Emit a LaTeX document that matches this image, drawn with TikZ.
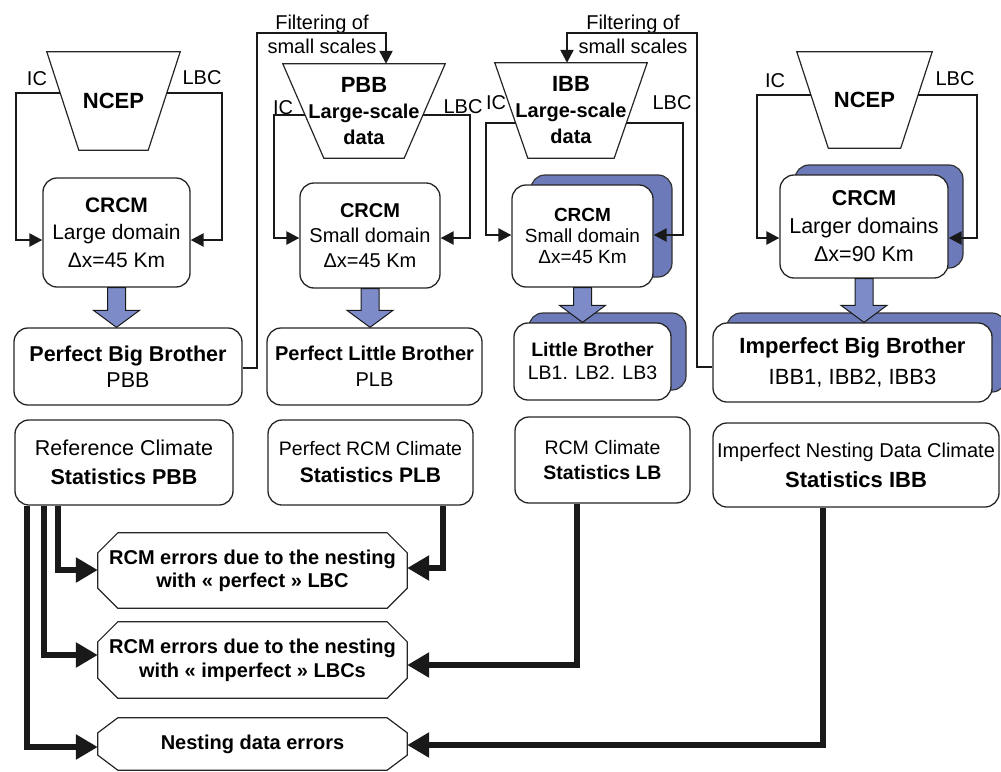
\documentclass[tikz,border=0pt]{standalone}
\usepackage{fontspec}
\setmainfont{Liberation Sans}
\usetikzlibrary{shadows,arrows.meta,calc}
\definecolor{arrowblue}{RGB}{125,140,200}
\definecolor{shadowblue}{RGB}{108,122,186}
\newcommand{\fs}[2]{\fontsize{#1}{#2}\selectfont}
\newcommand{\trapdraw}[2]{\draw[trapline] (#1.north west) -- (#1.north east) -- ([xshift=-#2pt]#1.south east) -- ([xshift=#2pt]#1.south west) -- cycle;}
\newcommand{\chamdraw}[3]{\draw[trapline] ([xshift=#2pt]#1.north west) -- ([xshift=-#2pt]#1.north east) -- ([yshift=-#3pt]#1.north east) -- ([yshift=#3pt]#1.south east) -- ([xshift=-#2pt]#1.south east) -- ([xshift=#2pt]#1.south west) -- ([yshift=#3pt]#1.south west) -- ([yshift=-#3pt]#1.north west) -- cycle;}
\newcommand{\blockarrow}[2]{%
 \path[fill=arrowblue, draw=black!90, line width=1pt] let \p1=(#1.south), \p2=(#2.north) in
   (\x1-9pt,\y1) -- (\x1+9pt,\y1) -- (\x1+9pt,\y2+17pt) -- (\x1+23pt,\y2+17pt) -- (\x1,\y2) -- (\x1-23pt,\y2+17pt) -- (\x1-9pt,\y2+17pt) -- cycle;}
\begin{document}
\begin{tikzpicture}[x=1pt,y=-1pt,
  box/.style={draw=black!85, line width=1.3pt, rounded corners=14pt, inner sep=0pt, align=center, fill=white},
  tbox/.style={inner sep=0pt, align=center},
  trapline/.style={draw=black!85, line width=1.2pt},
  lbl/.style={inner sep=0pt, font=\fs{20}{24}},
  thinarr/.style={line width=2.4pt, black!90, -{Triangle[length=13pt,width=13pt]}},
  thickarr/.style={line width=5.5pt, black!90, -{Triangle[length=22pt,width=24pt]}},
  shad/.style={copy shadow={shadow xshift=#1, shadow yshift=10pt, fill=shadowblue, draw=black!80, line width=1.2pt}}
]
\useasboundingbox (0,0) rectangle (1001,771);

% ---------- column 1 ----------
\node[tbox, minimum width=133pt, minimum height=98pt, font=\fs{22}{27}\bfseries] (ncep1) at (113.5,101) {NCEP};
\trapdraw{ncep1}{32}
\coordinate (ncep1l) at (60.4,93);
\coordinate (ncep1r) at (166.6,93);
\node[lbl] (ic1) at (37,79) {IC};
\node[lbl] (lbc1) at (202,78) {LBC};
\node[box, minimum width=147pt, minimum height=109pt, font=\fs{21}{27.5}] (crcm1) at (116.5,232.5) {\textbf{CRCM}\\Large domain\\Δx=45 Km};
\draw[thinarr] (ncep1l) -| (16,240) -- (crcm1.west |- 0,240);
\draw[thinarr] (ncep1r) -| (222,240) -- (crcm1.east |- 0,240);

% ---------- column 2 ----------
\node[tbox, minimum width=162pt, minimum height=94pt, font=\fs{20}{26}\bfseries] (pbb) at (364,111) {{\fs{22}{26}PBB}\\Large-scale\\data};
\trapdraw{pbb}{41}
\coordinate (pbbl) at (305.2,115);
\coordinate (pbbr) at (422.8,115);
\node[lbl] (ic2) at (283,108) {IC};
\node[lbl] (lbc2) at (463,107) {LBC};
\node[box, minimum width=140pt, minimum height=105pt, font=\fs{20}{25}] (crcm2) at (370,235.5) {\textbf{CRCM}\\Small domain\\Δx=45 Km};
\draw[thinarr] (pbbl) -| (274,238) -- (crcm2.west |- 0,238);
\draw[thinarr] (pbbr) -| (470,238) -- (crcm2.east |- 0,238);

% ---------- column 3 ----------
\node[tbox, minimum width=152pt, minimum height=95pt, font=\fs{20}{26}\bfseries] (ibb) at (571,110.5) {{\fs{22}{26}IBB}\\Large-scale\\data};
\trapdraw{ibb}{33}
\coordinate (ibbl) at (515.8,123);
\coordinate (ibbr) at (626.2,123);
\node[lbl] (ic3) at (496,103) {IC};
\node[lbl] (lbc3) at (672,103) {LBC};
\node[box, shad=19pt, minimum width=141pt, minimum height=102pt, font=\fs{19}{21}] (crcm3) at (582.5,236) {\textbf{CRCM}\\Small domain\\Δx=45 Km};
\draw[thinarr] (ibbl) -| (486,235) -- (crcm3.west |- 0,235);
\draw[thinarr] (ibbr) -| (683,235) -- (crcm3.east |- 0,235);

% ---------- column 4 ----------
\node[tbox, minimum width=135pt, minimum height=96pt, font=\fs{22}{27}\bfseries] (ncep4) at (864.5,100) {NCEP};
\trapdraw{ncep4}{31.5}
\coordinate (ncep4l) at (811.1,95);
\coordinate (ncep4r) at (917.9,95);
\node[lbl] (ic4) at (775,81) {IC};
\node[lbl] (lbc4) at (955,79) {LBC};
\node[box, shad=15pt, minimum width=168pt, minimum height=103pt, font=\fs{21.5}{28}] (crcm4) at (864,226.5) {\textbf{CRCM}\\Larger domains\\Δx=90 Km};
\draw[thinarr] (ncep4l) -| (757,238) -- (crcm4.west |- 0,238);
\draw[thinarr] (ncep4r) -| (977,238) -- (crcm4.east |- 0,238);

% ---------- brother boxes ----------
\node[box, minimum width=228pt, minimum height=77pt, font=\fs{21.5}{26}] (pbbb) at (128,366.5) {\textbf{Perfect Big Brother}\\PBB};
\node[box, minimum width=215pt, minimum height=77pt, font=\fs{20}{26}] (plb) at (374.5,366.5) {\textbf{Perfect Little Brother}\\PLB};
\node[box, shad=15pt, minimum width=157pt, minimum height=77pt, font=\fs{19.5}{23}] (lb) at (592.5,361.5) {\textbf{Little Brother}\\LB1. LB2. LB3};
\node[box, shad=14pt, minimum width=279pt, minimum height=79pt, font=\fs{22}{31}] (ibbb) at (852.5,362.5) {\textbf{Imperfect Big Brother}\\IBB1, IBB2, IBB3};

\blockarrow{crcm1}{pbbb}
\blockarrow{crcm2}{plb}
\blockarrow{crcm3}{lb}
\blockarrow{crcm4}{ibbb}

% ---------- filtering ----------
\node[lbl, align=center] (filt1) at (322,34) {Filtering of\\small scales};
\node[lbl, align=center] (filt2) at (633,34) {Filtering of\\small scales};
\draw[thinarr] (pbbb.east |- 0,368) -| (257,33) -| (pbb.north -| 386,0);
\draw[thinarr] (ibbb.west |- 0,367) -| (697,33) -| (ibb.north -| 567,0);

% ---------- statistics ----------
\node[box, minimum width=218pt, minimum height=85pt, font=\fs{21.5}{29}] (s1) at (124,462.5) {Reference Climate\\\textbf{Statistics PBB}};
\node[box, minimum width=205pt, minimum height=85pt, font=\fs{21}{27}] (s2) at (370.5,462.5) {{\fs{19.5}{27}Perfect RCM Climate}\\\textbf{Statistics PLB}};
\node[box, minimum width=175pt, minimum height=86pt, font=\fs{19.5}{25}] (s3) at (602.5,460) {RCM Climate\\\textbf{Statistics LB}};
\node[box, minimum width=286pt, minimum height=84pt, font=\fs{22}{30}] (s4) at (856,465) {{\fs{20}{30}Imperfect Nesting Data Climate}\\\textbf{Statistics IBB}};

% ---------- errors ----------
\node[tbox, minimum width=309pt, minimum height=75pt, font=\fs{20}{23}\bfseries] (e1) at (252.5,570.5) {RCM errors due to the nesting\\with « perfect » LBC};
\chamdraw{e1}{20}{20}
\node[tbox, minimum width=309pt, minimum height=76pt, font=\fs{20}{24}\bfseries] (e2) at (252.5,660) {RCM errors due to the nesting\\with « imperfect » LBCs};
\chamdraw{e2}{20}{20}
\node[tbox, minimum width=309pt, minimum height=52pt, font=\fs{20}{24}\bfseries] (e3) at (252.5,744) {Nesting data errors};
\chamdraw{e3}{20}{15}

\draw[thickarr] (s1.south -| 58,0) |- (e1.west |- 0,570);
\draw[thickarr] (s1.south -| 44,0) |- (e2.west |- 0,655);
\draw[thickarr] (s1.south -| 27,0) |- (e3.west |- 0,747);
\draw[thickarr] (s2.south -| 443,0) |- (e1.east |- 0,568);
\draw[thickarr] (s3.south -| 577,0) |- (e2.east |- 0,665);
\draw[thickarr] (s4.south -| 823,0) |- (e3.east |- 0,745);
\end{tikzpicture}
\end{document}
